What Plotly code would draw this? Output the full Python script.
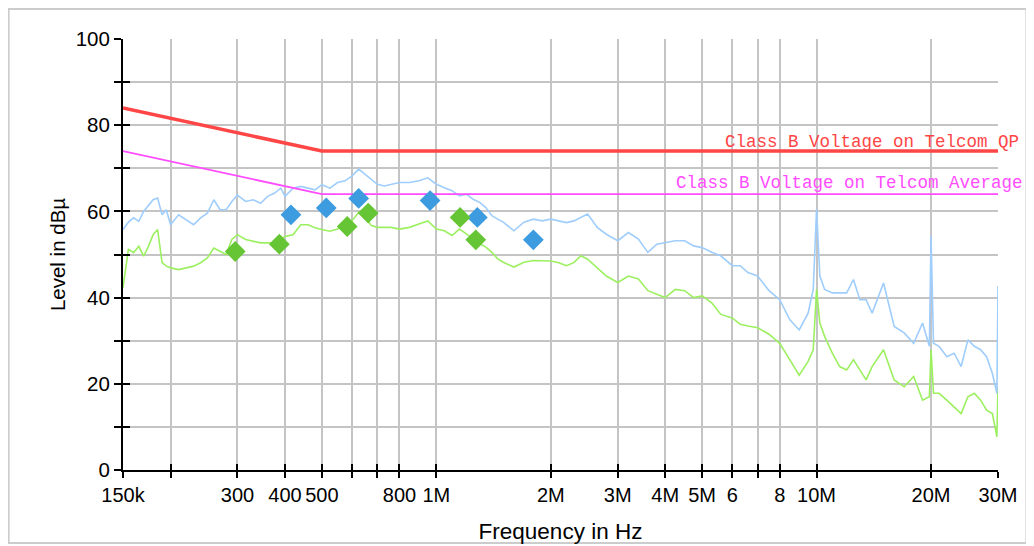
import math
import plotly.graph_objects as go

# ---------------- data ----------------
freq_khz = [150, 155, 160, 165, 170, 175, 180, 185, 190, 195, 200, 210, 220, 230, 240, 250,
            260, 270, 280, 290, 300, 315, 330, 345, 360, 375, 390, 400, 420, 440, 460, 480,
            500, 525, 550, 575, 600, 625, 650, 675, 700, 730, 760, 800, 850, 900, 950, 1000,
            1050, 1100, 1150, 1200, 1250, 1300, 1350, 1400, 1450, 1500, 1600, 1700, 1800, 1900,
            2000, 2100, 2200, 2300, 2400, 2500, 2650, 2800, 3000, 3200, 3400, 3600, 3800, 4000,
            4250, 4500, 4750, 5000, 5300, 5600, 6000, 6300, 6600, 7000, 7500, 8000, 8500, 9000,
            9500, 9800, 10000, 10200, 10500, 11000, 11500, 12000, 12500, 13000, 13500, 14000,
            15000, 16000, 17000, 18000, 19000, 19800, 20000, 20300, 21000, 22000, 23000, 24000,
            25000, 26000, 27000, 28000, 29000, 29800, 30000]

peak_dbuv = [55.8, 57.5, 58.5, 57.7, 60.0, 61.5, 62.7, 63.1, 59.2, 60.4, 56.9, 59.2, 58.1, 56.9, 58.5, 59.6,
             62.7, 60.4, 60.4, 62.3, 63.8, 62.3, 62.7, 61.9, 63.5, 64.2, 65.4, 63.5, 65.4, 65.8, 65.4, 65.0,
             66.2, 65.4, 66.7, 67.1, 68.2, 69.8, 68.6, 67.5, 66.3, 65.9, 66.3, 66.7, 66.7, 67.1, 67.8, 66.3,
             65.5, 64.8, 63.6, 64.0, 62.8, 62.1, 60.9, 59.0, 58.2, 57.5, 55.5, 57.5, 58.2, 57.8,
             58.2, 57.8, 57.4, 57.8, 58.6, 59.4, 56.3, 54.7, 53.2, 55.1, 53.6, 50.5, 52.4, 52.8,
             53.2, 53.2, 52.0, 51.6, 50.5, 49.7, 47.4, 47.4, 45.8, 45.0, 41.6, 39.5, 34.9, 32.5,
             36.4, 41.9, 60.5, 45.0, 41.9, 41.1, 41.1, 41.1, 44.2, 39.5, 39.5, 36.4,
             43.4, 33.3, 31.8, 29.4, 34.1, 28.7, 54.3, 29.4, 28.7, 26.3, 27.1, 24.0,
             30.2, 28.7, 27.9, 26.3, 22.4, 17.8, 42.7]

avg_dbuv = [42.3, 51.2, 50.4, 51.9, 49.6, 51.9, 54.6, 55.8, 48.1, 47.3, 46.9, 46.5, 46.9, 47.3, 48.1, 49.2,
            51.5, 50.8, 50.0, 53.5, 54.6, 53.5, 53.1, 52.7, 52.7, 52.7, 53.5, 54.2, 54.6, 56.9, 56.9, 56.2,
            55.8, 55.4, 55.9, 57.1, 57.8, 59.8, 58.6, 56.7, 56.3, 56.3, 56.3, 55.9, 56.3, 57.1, 57.8, 55.9,
            55.5, 54.4, 55.9, 54.8, 53.6, 52.5, 51.7, 50.5, 49.0, 48.2, 47.1, 48.2, 48.6, 48.6,
            48.5, 48.1, 47.4, 48.1, 49.7, 48.9, 47.0, 45.0, 43.5, 45.0, 44.3, 41.6, 40.8, 40.0,
            41.9, 41.6, 40.0, 40.4, 38.8, 36.1, 35.3, 33.8, 33.4, 33.0, 31.5, 29.4, 25.6, 22.0,
            25.2, 27.9, 41.9, 34.1, 31.0, 27.1, 24.0, 23.2, 25.6, 23.2, 20.9, 24.0,
            27.9, 20.9, 19.3, 21.7, 16.2, 17.0, 27.9, 17.8, 17.8, 16.2, 14.7, 13.1,
            17.0, 17.8, 16.2, 13.9, 13.1, 7.7, 19.3]

qp_limit_khz = [150, 500, 30000]
qp_limit_dbuv = [84, 74, 74]
avg_limit_khz = [150, 500, 30000]
avg_limit_dbuv = [74, 64, 64]

qp_marker_khz = [414.8, 513.6, 625, 963, 1282, 1800]
qp_marker_dbuv = [59.2, 60.8, 63.0, 62.5, 58.6, 53.4]
avg_marker_khz = [296, 386.6, 583, 662, 1155, 1270]
avg_marker_dbuv = [50.7, 52.4, 56.5, 59.6, 58.6, 53.4]

x_tick_hz = [150e3, 200e3, 300e3, 400e3, 500e3, 600e3, 700e3, 800e3, 1e6, 2e6, 3e6, 4e6,
             5e6, 6e6, 7e6, 8e6, 10e6, 20e6, 30e6]
x_tick_text = ["150k", "", "300", "400", "500", "", "", "800", "1M", "2M", "3M", "4M",
               "5M", "6", "", "8", "10M", "20M", "30M"]
y_tick_vals = [0, 10, 20, 30, 40, 50, 60, 70, 80, 90, 100]
y_tick_text = ["0", "", "20", "", "40", "", "60", "", "80", "", "100"]

qp_label = "Class B Voltage on Telcom QP"
avg_label = "Class B Voltage on Telcom Average"

assert len(freq_khz) == len(peak_dbuv) == len(avg_dbuv)


def hz(lst):
    return [v * 1000 for v in lst]


# ---------------- figure ----------------
C_PEAK = "#9fcdfc"
C_AVG = "#9cf060"
C_QP = "#ff4646"
C_AV = "#ff4cff"
GRID = "#c4c4c4"
FONT = "Liberation Sans, Arial, sans-serif"
MONO = "Liberation Mono, Courier New, monospace"

fig = go.Figure()
fig.add_trace(go.Scatter(x=hz(freq_khz), y=avg_dbuv, mode="lines",
                         line=dict(color=C_AVG, width=1.6), showlegend=False, hoverinfo="skip"))
fig.add_trace(go.Scatter(x=hz(freq_khz), y=peak_dbuv, mode="lines",
                         line=dict(color=C_PEAK, width=1.6), showlegend=False, hoverinfo="skip"))
fig.add_trace(go.Scatter(x=hz(qp_limit_khz), y=qp_limit_dbuv, mode="lines",
                         line=dict(color=C_QP, width=3.5), showlegend=False,
                         xaxis="x2", yaxis="y2"))
fig.add_trace(go.Scatter(x=hz(avg_limit_khz), y=avg_limit_dbuv, mode="lines",
                         line=dict(color=C_AV, width=1.8), showlegend=False,
                         xaxis="x2", yaxis="y2"))
fig.add_trace(go.Scatter(x=hz(qp_marker_khz), y=qp_marker_dbuv, mode="markers",
                         marker=dict(symbol="diamond", size=16, color="#3d9be0"),
                         showlegend=False, xaxis="x2", yaxis="y2"))
fig.add_trace(go.Scatter(x=hz(avg_marker_khz), y=avg_marker_dbuv, mode="markers",
                         marker=dict(symbol="diamond", size=16, color="#66c535"),
                         showlegend=False, xaxis="x2", yaxis="y2"))

xr = [math.log10(150e3), math.log10(30e6)]
yr = [0, 100]

# page body has an 8px margin: figure is 1026x538 and sits at (8, 8) on screen
fig.update_layout(
    width=1026, height=538,
    margin=dict(l=114.5, r=35.5, t=31, b=76, autoexpand=False),
    paper_bgcolor="white", plot_bgcolor="white",
    font=dict(family=FONT, size=20, color="black"),
    xaxis=dict(type="log", range=xr, tickmode="array", tickvals=x_tick_hz, ticktext=x_tick_text,
               showgrid=True, gridcolor=GRID, gridwidth=2, zeroline=False,
               showline=True, linecolor="black", linewidth=2,
               ticks="outside", ticklen=6, tickwidth=2, tickcolor="black",
               tickfont=dict(size=20),
               title=dict(text="Frequency in Hz", font=dict(size=22.5), standoff=18)),
    yaxis=dict(range=yr, tickmode="array", tickvals=y_tick_vals, ticktext=y_tick_text,
               showgrid=True, gridcolor=GRID, gridwidth=2, zeroline=False,
               showline=True, linecolor="black", linewidth=2,
               ticks="outside", ticklen=7, tickwidth=2, tickcolor="black",
               tickfont=dict(size=20.5),
               title=dict(text="Level in dBµ", font=dict(size=20.5), standoff=5)),
    xaxis2=dict(type="log", range=xr, overlaying="x", side="bottom", anchor="y2",
                tickmode="array", tickvals=x_tick_hz, showticklabels=False,
                showgrid=False, zeroline=False, showline=False,
                ticks="inside", ticklen=6, tickwidth=2, tickcolor="black"),
    yaxis2=dict(range=yr, overlaying="y", side="left", anchor="x2",
                tickmode="array", tickvals=y_tick_vals, showticklabels=False,
                showgrid=False, zeroline=False, showline=False,
                ticks="inside", ticklen=7, tickwidth=2, tickcolor="black"),
    annotations=[
        dict(text=qp_label, xref="paper", yref="y", x=1.0268, y=76.1, xanchor="right", yanchor="middle",
             showarrow=False, font=dict(family=MONO, size=17.5, color=C_QP)),
        dict(text=avg_label, xref="paper", yref="y", x=1.0314, y=66.6, xanchor="right", yanchor="middle",
             showarrow=False, font=dict(family=MONO, size=17.5, color=C_AV)),
    ],
    shapes=[dict(type="rect", xref="paper", yref="paper", x0=-0.1307, x1=1.0325, y0=-0.1694, y1=1.0696,
                 line=dict(color="#cccccc", width=2), fillcolor="rgba(0,0,0,0)", layer="below")],
)

fig.write_html("out.html")
